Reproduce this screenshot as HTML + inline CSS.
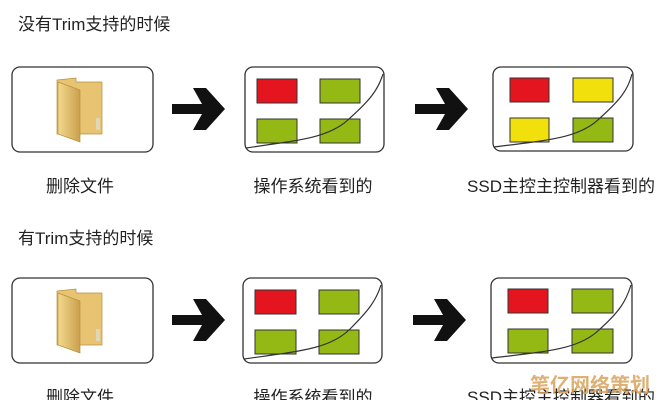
<!DOCTYPE html>
<html><head><meta charset="utf-8"><style>
html,body{margin:0;padding:0;background:#fff;width:661px;height:400px;overflow:hidden}
text{font-family:"Liberation Sans","Noto Sans CJK SC",sans-serif;fill:#222}
</style></head><body>
<svg width="661" height="400" viewBox="0 0 661 400" xmlns="http://www.w3.org/2000/svg">
<defs>
<linearGradient id="fg" x1="0" x2="1"><stop offset="0" stop-color="#f3d98c"/><stop offset="1" stop-color="#c9a04e"/></linearGradient>
<g id="folder">
<path d="M57 80 L76 78 L76 82 L102 82 L102 134 L57 134 Z" fill="#e8c472" stroke="#b8903c" stroke-width="0.7"/>
<path d="M58 82 L80 90 L80 142 L58 134 Z" fill="url(#fg)" stroke="#b8903c" stroke-width="0.7"/>
<rect x="96" y="118" width="4" height="12" fill="#e0d6b8"/>
</g>
<g id="arrow">
<path d="M0 16 L30 16 L21 0 L34 0 L53 21 L34 42 L21 42 L30 26 L0 26 Z" fill="#111"/>
</g>
</defs>
<text x="18" y="30" font-size="17">没有Trim支持的时候</text>
<text x="18" y="244" font-size="17">有Trim支持的时候</text>

<rect x="12" y="67" width="141" height="85" rx="8" fill="#fff" stroke="#333" stroke-width="1.3"/>
<use href="#folder"/>
<use href="#arrow" x="172" y="88"/>
<rect x="245" y="67" width="139" height="85" rx="8" fill="#fff" stroke="#333" stroke-width="1.3"/>
<rect x="257" y="79" width="40" height="24" fill="#e5151f" stroke="#333"/>
<rect x="320" y="79" width="40" height="24" fill="#94b814" stroke="#333"/>
<rect x="257" y="119" width="40" height="24" fill="#94b814" stroke="#333"/>
<rect x="320" y="119" width="40" height="24" fill="#94b814" stroke="#333"/>
<path d="M246 148 C300 140 330 138 350 118 C370 100 378 90 383 74" fill="none" stroke="#333" stroke-width="1.2"/>
<use href="#arrow" x="415" y="88"/>
<rect x="493" y="67" width="140" height="84" rx="8" fill="#fff" stroke="#333" stroke-width="1.3"/>
<rect x="510" y="78" width="39" height="24" fill="#e5151f" stroke="#333"/>
<rect x="573" y="78" width="40" height="24" fill="#f2e00c" stroke="#333"/>
<rect x="510" y="118" width="39" height="24" fill="#f2e00c" stroke="#333"/>
<rect x="573" y="118" width="40" height="24" fill="#94b814" stroke="#333"/>
<path d="M494 147 C550 140 580 138 600 118 C620 100 628 90 632 74" fill="none" stroke="#333" stroke-width="1.2"/>
<text x="80" y="192" font-size="17" text-anchor="middle">删除文件</text>
<text x="313" y="192" font-size="17" text-anchor="middle">操作系统看到的</text>
<text x="561" y="192" font-size="17" text-anchor="middle">SSD主控主控制器看到的</text>

<g transform="translate(0,211)">
<rect x="12" y="67" width="141" height="85" rx="8" fill="#fff" stroke="#333" stroke-width="1.3"/>
<use href="#folder"/>
<use href="#arrow" x="172" y="88"/>
<rect x="243" y="67" width="139" height="85" rx="8" fill="#fff" stroke="#333" stroke-width="1.3"/>
<rect x="255" y="79" width="41" height="24" fill="#e5151f" stroke="#333"/>
<rect x="319" y="79" width="40" height="24" fill="#94b814" stroke="#333"/>
<rect x="255" y="119" width="41" height="24" fill="#94b814" stroke="#333"/>
<rect x="319" y="119" width="40" height="24" fill="#94b814" stroke="#333"/>
<path d="M244 148 C300 140 330 138 350 118 C368 100 376 90 381 74" fill="none" stroke="#333" stroke-width="1.2"/>
<use href="#arrow" x="413" y="88"/>
<rect x="491" y="67" width="141" height="85" rx="8" fill="#fff" stroke="#333" stroke-width="1.3"/>
<rect x="508" y="78" width="40" height="24" fill="#e5151f" stroke="#333"/>
<rect x="572" y="78" width="41" height="24" fill="#94b814" stroke="#333"/>
<rect x="508" y="118" width="40" height="24" fill="#94b814" stroke="#333"/>
<rect x="572" y="118" width="41" height="24" fill="#94b814" stroke="#333"/>
<path d="M492 147 C550 140 580 138 600 118 C620 100 626 90 631 74" fill="none" stroke="#333" stroke-width="1.2"/>
<text x="80" y="192" font-size="17" text-anchor="middle">删除文件</text>
<text x="313" y="192" font-size="17" text-anchor="middle">操作系统看到的</text>
<text x="561" y="192" font-size="17" text-anchor="middle">SSD主控主控制器看到的</text>
</g>
<text x="530" y="392" font-size="20" font-weight="bold" style="fill:#d9a35c;opacity:0.85">笔亿网络策划</text>
</svg>
</body></html>
